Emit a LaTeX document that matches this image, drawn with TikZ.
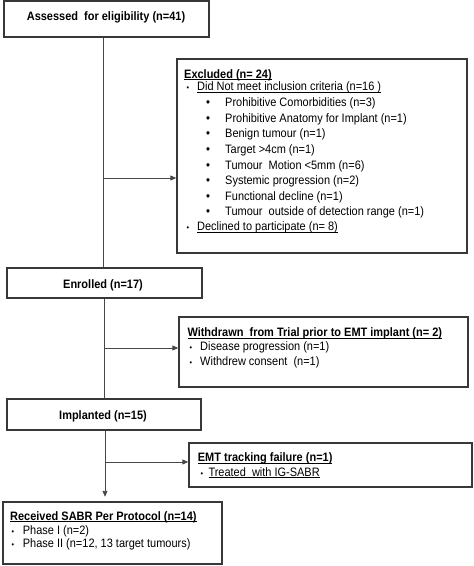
\documentclass[tikz,border=0pt]{standalone}
\usepackage{fontspec}
\setmainfont{Liberation Sans}[FakeStretch=0.9]
\usetikzlibrary{arrows.meta}
\newlength\ulen
\newcommand\myul[1]{\settowidth\ulen{#1}\rlap{\rule[-1.6pt]{\ulen}{0.8pt}}#1}
\begin{document}
\begin{tikzpicture}[x=1pt,y=-1pt,
  box/.style={draw=black!78, line width=1.4pt, fill=white, inner sep=0pt},
  conn/.style={draw=black!72, line width=0.9pt},
  arr/.style={conn, -{Triangle[length=6pt,width=5pt]}},
  txt/.style={anchor=base west, inner sep=0pt, font=\fontsize{12.2}{14}\selectfont},
  htxt/.style={txt, font=\fontsize{12.2}{14}\selectfont\bfseries},
  ctxt/.style={anchor=base, inner sep=0pt, font=\fontsize{12.2}{14}\selectfont\bfseries},
  bulA/.style={anchor=base, inner sep=0pt, font=\fontsize{8}{8}\selectfont},
  bulB/.style={anchor=base, inner sep=0pt, font=\fontsize{12.5}{12}\selectfont},
]
\useasboundingbox (0,0) rectangle (474,566);
% boxes
\node[box, minimum width=205pt, minimum height=36pt] (assess) at (106.5,19) {};
\node[box, minimum width=195pt, minimum height=30pt] (enrol) at (104.5,283) {};
\node[box, minimum width=194pt, minimum height=31pt] (impl) at (104,414.5) {};
\node[box, minimum width=290pt, minimum height=194pt] (excl) at (322,156) {};
\node[box, minimum width=289pt, minimum height=70pt] (withd) at (323.5,352) {};
\node[box, minimum width=283pt, minimum height=44pt] (emt) at (330.5,465) {};
\node[box, minimum width=219pt, minimum height=62pt] (recv) at (112.5,533) {};
% connectors
\coordinate (j1) at (103,178);
\coordinate (j2) at (104,348);
\coordinate (j3) at (105,462);
\draw[conn] (assess.south -| j1) -- (enrol.north -| j1);
\draw[arr] (j1) -- (j1 -| excl.west);
\draw[conn] (enrol.south -| j2) -- (impl.north -| j2);
\draw[arr] (j2) -- (j2 -| withd.west);
\draw[arr, shorten >=4.5pt] (impl.south -| j3) -- (recv.north -| j3);
\draw[arr] (j3) -- (j3 -| emt.west);
% centred texts
\node[ctxt] (tassess) at (106,20.7) {Assessed\ \ for eligibility (n=41)};
\node[ctxt] (tenrol) at (103,288.3) {Enrolled (n=17)};
\node[ctxt] (timpl) at (103,419.3) {Implanted (n=15)};
% excluded
\node[htxt] (exh) at (184,78.3) {\myul{Excluded (n= 24)}};
\node[bulA] (exb1) at (188,90.7) {•};
\node[txt] (ex1) at (197,90.7) {\myul{Did Not meet inclusion criteria (n=16 )}};
\foreach \yy/\tt [count=\i] in {106.7/{Prohibitive Comorbidities (n=3)},
  122.3/{Prohibitive Anatomy for Implant (n=1)},
  137.9/{Benign tumour (n=1)},
  153.5/{Target >4cm (n=1)},
  169.1/{Tumour\ \ Motion <5mm (n=6)},
  184.7/{Systemic progression (n=2)},
  200.3/{Functional decline (n=1)},
  215.9/{Tumour\ \ outside of detection range (n=1)}}{
  \node[bulB] (exsb\i) at (208,\yy) {•};
  \node[txt] (exs\i) at (225,\yy) {\tt};
}
\node[bulA] (exb2) at (188,230.7) {•};
\node[txt] (ex2) at (197,230.7) {\myul{Declined to participate (n= 8)}};
% withdrawn
\node[htxt] (wdh) at (187.3,336.7) {\myul{Withdrawn\ \ from Trial prior to EMT implant (n= 2)}};
\node[bulA] (wdb1) at (191,350.7) {•};
\node[txt] (wd1) at (200,350.7) {Disease progression (n=1)};
\node[bulA] (wdb2) at (191,365) {•};
\node[txt] (wd2) at (200,365) {Withdrew consent\ \ (n=1)};
% EMT
\node[htxt] (emh) at (197.7,461.7) {\myul{EMT tracking failure (n=1)}};
\node[bulA] (emb1) at (202,476) {•};
\node[txt] (em1) at (208.3,476) {\myul{Treated\ \ with IG-SABR}};
% received
\node[htxt] (rch) at (10,520) {\myul{Received SABR Per Protocol (n=14)}};
\node[bulA] (rcb1) at (13,534.3) {•};
\node[txt] (rc1) at (22.7,534.3) {Phase I (n=2)};
\node[bulA] (rcb2) at (13,547.7) {•};
\node[txt] (rc2) at (22.7,547.7) {Phase II (n=12, 13 target tumours)};
\end{tikzpicture}
\end{document}
